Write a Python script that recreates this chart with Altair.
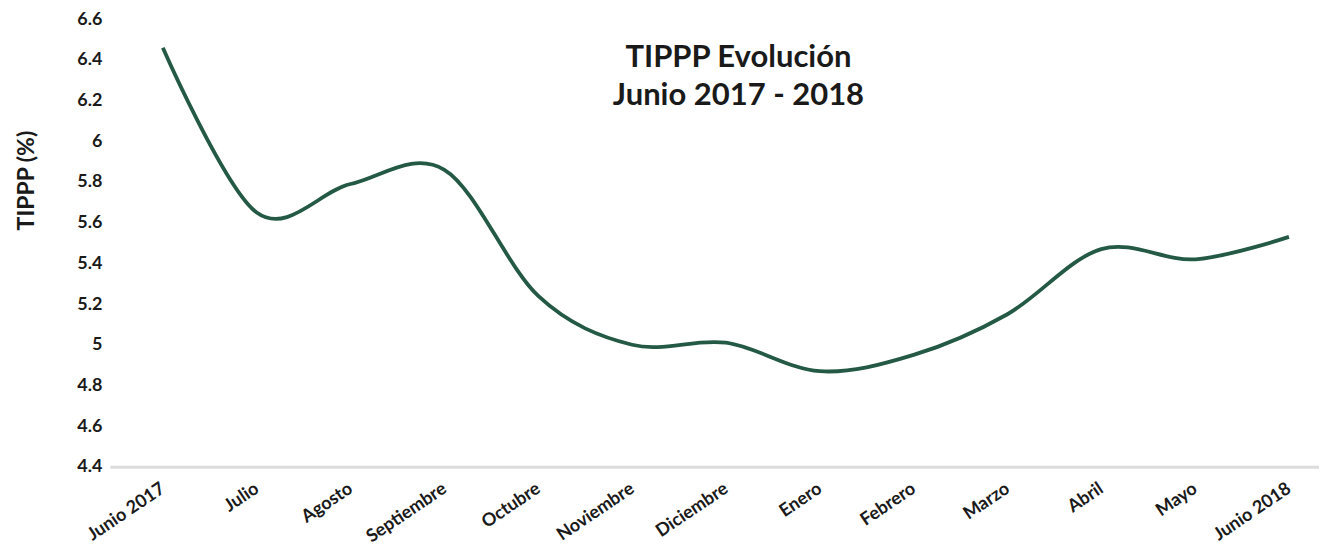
import altair as alt
import pandas as pd

months = ["Junio 2017", "Julio", "Agosto", "Septiembre", "Octubre", "Noviembre",
          "Diciembre", "Enero", "Febrero", "Marzo", "Abril", "Mayo", "Junio 2018"]
tippp = [6.46, 5.65, 5.79, 5.86, 5.24, 5.00, 5.01, 4.87, 4.95, 5.15, 5.47, 5.42, 5.53]
y_ticks = [4.4, 4.6, 4.8, 5.0, 5.2, 5.4, 5.6, 5.8, 6.0, 6.2, 6.4, 6.6]
title_lines = ["TIPPP Evolución", "Junio 2017 - 2018"]

df = pd.DataFrame({"idx": list(range(len(months))), "mes": months, "tippp": tippp})
title_df = pd.DataFrame({"t": ["\n".join(title_lines)]})

label_expr = "[" + ",".join("'" + m + "'" for m in months) + "][round(datum.value)]"

FONT = "Lato"
TXT = "#1a1a1a"

line = alt.Chart(df).mark_line(
    interpolate="cardinal", tension=0, color="#245a45", strokeWidth=3.8
).encode(
    x=alt.X("idx:Q",
            scale=alt.Scale(domain=[-0.564, 12.32], nice=False, zero=False),
            axis=alt.Axis(title=None, values=list(range(len(months))),
                          labelExpr=label_expr, labelAngle=-34, labelAlign="right",
                          labelBaseline="middle", labelPadding=20, labelFlush=False,
                          labelOverlap=False,
                          labelFont=FONT, labelFontWeight="bold", labelFontSize=18,
                          labelColor=TXT, domainColor="#dcdcdc", domainWidth=3,
                          ticks=False, grid=False)),
    y=alt.Y("tippp:Q",
            scale=alt.Scale(domain=[4.4, 6.6], nice=False, zero=False),
            axis=alt.Axis(values=y_ticks, format=".1~f", title="TIPPP (%)",
                          titleFont=FONT, titleFontSize=23, titleFontWeight="bold",
                          titleColor=TXT, titleX=-83, titleY=161,
                          titleBaseline="middle", titleAlign="center",
                          labelFont=FONT, labelFontWeight="bold", labelFontSize=18,
                          labelColor=TXT, labelPadding=8, labelFlush=False,
                          domain=False, ticks=False, grid=False)),
)

title_text = alt.Chart(title_df).mark_text(
    font=FONT, fontSize=31, fontWeight="bold", color=TXT,
    align="center", baseline="alphabetic", lineBreak="\n", lineHeight=38
).encode(
    text="t:N",
    x=alt.value(629),
    y=alt.value(48),
)

chart = alt.layer(line, title_text).properties(
    width=1210, height=448,
    padding={"left": 102, "top": 11, "right": 0, "bottom": 82},
    autosize=alt.AutoSizeParams(type="none"),
    background="white",
).configure_view(stroke=None)

chart.save("out.html", embed_options={"renderer": "svg", "actions": False})
